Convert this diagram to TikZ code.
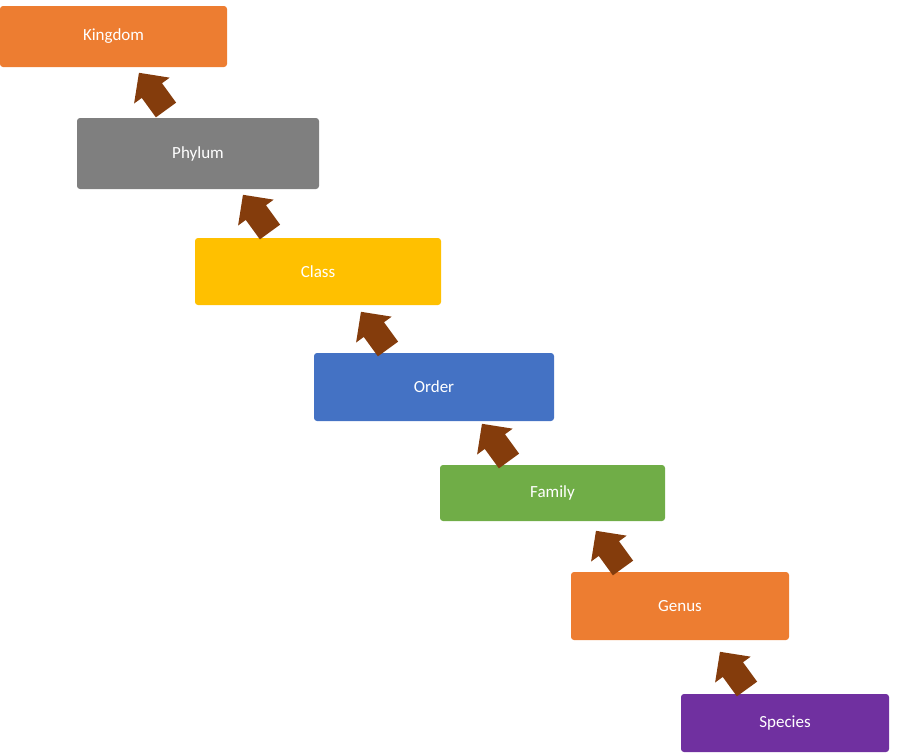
\documentclass[tikz,border=0pt]{standalone}
\usepackage{fontspec}
\setmainfont{Carlito}
\begin{document}
\begin{tikzpicture}[x=1pt,y=1pt,
 box/.style={draw=none,rounded corners=3pt,text=white,font=\fontsize{17}{20}\selectfont,inner sep=0},
 blk/.style={fill=brown!60!black,fill=arrowc,draw=none}]
\definecolor{arrowc}{HTML}{843C0C}
\definecolor{korange}{HTML}{ED7D31}
\definecolor{kgray}{HTML}{7F7F7F}
\definecolor{kyellow}{HTML}{FFC000}
\definecolor{kblue}{HTML}{4472C4}
\definecolor{kgreen}{HTML}{70AD47}
\definecolor{kpurple}{HTML}{7030A0}
\useasboundingbox (0,0) rectangle (899,-753);
\newcommand{\bx}[6]{\path[fill=#6,rounded corners=3pt] (#2,-#3) rectangle (#4,-#5);
 \node[box] (#1) at ({(#2+#4)/2},{-(#3+#5)/2}) {#1};}
\bx{Kingdom}{0}{6}{227}{67}{korange}
\bx{Phylum}{77}{118}{319}{189}{kgray}
\bx{Class}{195}{238}{441}{305}{kyellow}
\bx{Order}{314}{353}{554}{421}{kblue}
\bx{Family}{440}{465}{665}{521}{kgreen}
\bx{Genus}{571}{572}{789}{640}{korange}
\bx{Species}{681}{694}{889}{752}{kpurple}
\newcommand{\arr}[2]{\fill[arrowc,shift={(#1,-#2)},rotate=126] (0,-12.5)--(24,-12.5)--(24,-22)--(46,0)--(24,22)--(24,12.5)--(0,12.5)--cycle;}
\arr{166}{110}
\arr{270}{232}
\arr{388}{349}
\arr{509}{461}
\arr{623}{568}
\arr{747}{689}
\end{tikzpicture}
\end{document}
